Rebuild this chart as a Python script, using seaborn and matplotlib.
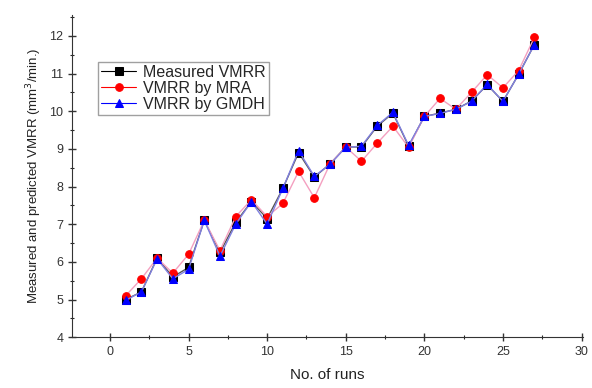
import pandas as pd
import matplotlib.pyplot as plt
import seaborn as sns
from matplotlib.ticker import MultipleLocator

runs = list(range(1, 28))
measured = [5.0, 5.2, 6.1, 5.6, 5.85, 7.1, 6.25, 7.05, 7.6, 7.15, 7.95, 8.9, 8.25, 8.6, 9.05,
            9.05, 9.6, 9.95, 9.07, 9.86, 9.95, 10.05, 10.27, 10.7, 10.26, 10.98, 11.77]
mra = [5.1, 5.55, 6.1, 5.7, 6.2, 7.1, 6.3, 7.2, 7.65, 7.2, 7.55, 8.4, 7.7, 8.6, 9.05,
       8.67, 9.15, 9.6, 9.04, 9.86, 10.34, 10.05, 10.5, 10.97, 10.62, 11.08, 11.96]
gmdh = [4.98, 5.2, 6.08, 5.55, 5.8, 7.1, 6.15, 7.0, 7.6, 7.0, 7.95, 8.95, 8.27, 8.59, 9.04,
        9.07, 9.62, 9.97, 9.09, 9.86, 9.94, 10.05, 10.26, 10.71, 10.26, 10.98, 11.77]

df = pd.DataFrame({'run': runs, 'Measured VMRR': measured,
                   'VMRR by MRA': mra, 'VMRR by GMDH': gmdh})

sns.set_style('ticks')
plt.rcParams['font.family'] = ['Liberation Sans', 'DejaVu Sans']

fig = plt.figure(figsize=(5.92, 3.88), dpi=100)
ax = fig.add_axes([0.122, 0.131, 0.863, 0.83])

styles = [('Measured VMRR', 'black', 's', '#555555'),
          ('VMRR by MRA', 'red', 'o', '#f4a0c0'),
          ('VMRR by GMDH', 'blue', '^', '#8080e0')]
for col, c, m, lc in styles:
    sns.lineplot(data=df, x='run', y=col, ax=ax, color=lc, linewidth=1.0,
                 marker=m, markersize=5.5, markerfacecolor=c, markeredgecolor=c,
                 label=col)

ax.set_xlim(-2.4, 30.1)
ax.set_ylim(4, 12.55)
ax.xaxis.set_major_locator(MultipleLocator(5))
ax.xaxis.set_minor_locator(MultipleLocator(2.5))
ax.yaxis.set_major_locator(MultipleLocator(1))
ax.yaxis.set_minor_locator(MultipleLocator(0.5))
ax.tick_params(which='major', direction='inout', length=6, width=1, labelsize=9, colors='#333333')
ax.tick_params(which='minor', direction='inout', length=3, width=0.8)
for s in ['top', 'right']:
    ax.spines[s].set_visible(False)
for s in ['left', 'bottom']:
    ax.spines[s].set_color('#333333')

ax.set_xlabel('No. of runs', fontsize=11, color='#222222', labelpad=7)
ax.set_ylabel('Measured and predicted VMRR (mm$^3$/min.)', fontsize=9.5, color='#222222')

leg = ax.legend(loc='upper left', bbox_to_anchor=(0.035, 0.88), fontsize=11.5,
                frameon=True, fancybox=False, edgecolor='#888888',
                handlelength=2.2, handletextpad=0.4, borderpad=0.2, labelspacing=0.05)
for h, (col, c, m, lc) in zip(leg.get_lines(), styles):
    h.set_color(c)
    h.set_linewidth(0.8)

fig.savefig('out.png', dpi=100)
